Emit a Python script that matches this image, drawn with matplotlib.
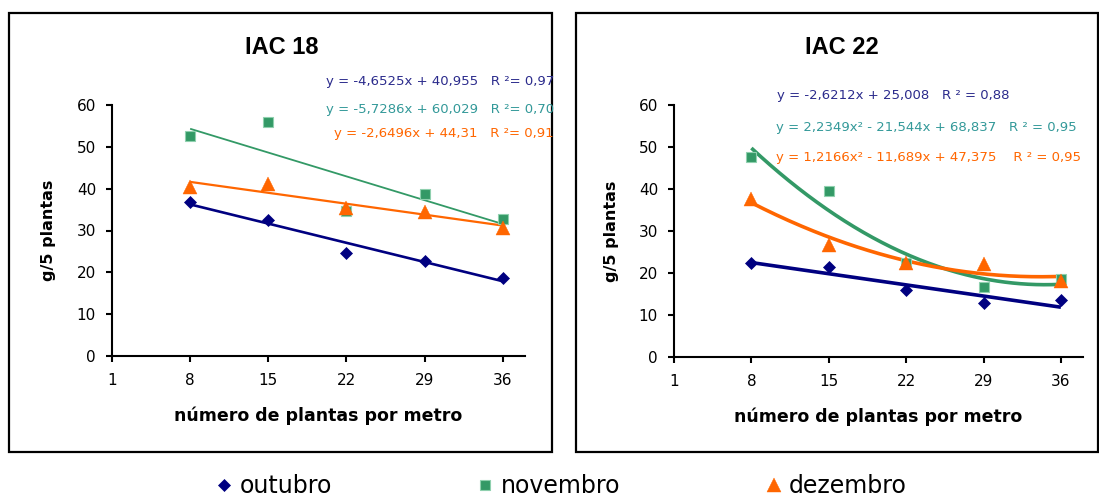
import numpy as np
import matplotlib
matplotlib.use("Agg")
import matplotlib.pyplot as plt
from matplotlib.patches import Rectangle

# ---------------- data ----------------
plants = [8, 15, 22, 29, 36]
x_ticks = [1, 8, 15, 22, 29, 36]
months = ["outubro", "novembro", "dezembro"]

iac18_outubro = [36.7, 32.5, 24.7, 22.8, 18.6]
iac18_novembro = [52.6, 56.0, 34.6, 38.7, 32.8]
iac18_dezembro = [40.3, 41.2, 35.4, 34.5, 30.6]

iac22_outubro = [22.4, 21.3, 15.8, 12.7, 13.4]
iac22_novembro = [47.7, 39.6, 22.4, 16.6, 18.6]
iac22_dezembro = [37.7, 26.7, 22.4, 22.2, 18.0]

eq_iac18 = ["y = -4,6525x + 40,955   R \u00b2= 0,97",
            "y = -5,7286x + 60,029   R \u00b2= 0,70",
            "y = -2,6496x + 44,31   R \u00b2= 0,91"]
eq_iac22 = ["y = -2,6212x + 25,008   R \u00b2 = 0,88",
            "y = 2,2349x\u00b2 - 21,544x + 68,837   R \u00b2 = 0,95",
            "y = 1,2166x\u00b2 - 11,689x + 47,375    R \u00b2 = 0,95"]

# ---------------- style ----------------
NAVY = "#000080"
GREEN = "#339966"
ORANGE = "#ff6600"
EQ_BLUE = "#2b2b8c"
EQ_TEAL = "#339999"

W, H = 1099, 496
fig = plt.figure(figsize=(W / 100, H / 100), dpi=100)
fig.patch.set_facecolor("white")


def fx(px):
    return px / W


def fy(py):
    return 1 - py / H


# panel frames
for (x0, y0, x1, y1) in [(9, 13, 552, 452), (576, 13, 1098, 452)]:
    fig.add_artist(Rectangle((fx(x0), fy(y1)), fx(x1 - x0), (y1 - y0) / H,
                             transform=fig.transFigure, fill=False,
                             edgecolor="black", linewidth=1.6, zorder=0))

ax1 = fig.add_axes([fx(112), fy(356), fx(525 - 112), (356 - 105) / H])
ax2 = fig.add_axes([fx(674), fy(356.7), fx(1083 - 674), (356.7 - 105) / H])

marker_kw = {
    "outubro": dict(marker="D", ms=5.8, color=NAVY, mec=NAVY, mew=0.5),
    "novembro": dict(marker="s", ms=7.0, color=GREEN, mec="#8fd0ae", mew=0.8),
    "dezembro": dict(marker="^", ms=10.0, color=ORANGE, mec=ORANGE, mew=0.3),
}
line_colors = {"outubro": NAVY, "novembro": GREEN, "dezembro": ORANGE}


def trend(ax, yvals, deg, color, lw):
    idx = np.arange(1, len(plants) + 1)
    coef = np.polyfit(idx, yvals, deg)
    ii = np.linspace(1, len(plants), 200)
    xx = np.interp(ii, idx, plants)
    ax.plot(xx, np.polyval(coef, ii), color=color, lw=lw, zorder=2,
            solid_capstyle="butt")


def style_axes(ax, title_px, title):
    ax.set_xlim(1, 38)
    ax.set_ylim(0, 60)
    ax.set_xticks(x_ticks)
    ax.set_yticks(range(0, 61, 10))
    for s in ["top", "right"]:
        ax.spines[s].set_visible(False)
    for s in ["left", "bottom"]:
        ax.spines[s].set_linewidth(1.5)
        ax.spines[s].set_color("black")
    ax.tick_params(axis="both", direction="out", length=4.5, width=1.5,
                   labelsize=11, colors="black")
    ax.tick_params(axis="x", pad=8)
    ax.tick_params(axis="y", pad=7)
    ax.set_facecolor("none")
    ax.set_xlabel("número de plantas por metro", fontsize=12.5,
                  fontweight="bold")
    ax.xaxis.label.set_va("center")
    ax.xaxis.set_label_coords(0.5, -(416 - 356) / 251)
    ax.set_ylabel("g/5 plantas", fontsize=11.5, fontweight="bold")
    ax.yaxis.label.set_va("center")
    ax.yaxis.set_label_coords(-(112 - 48.5) / 413, 0.5)
    fig.text(fx(title_px[0]), fy(title_px[1]), title, ha="center",
             va="center", fontsize=17, fontweight="bold",
             family=["Liberation Sans", "DejaVu Sans"])


# IAC 18
series18 = {"outubro": iac18_outubro, "novembro": iac18_novembro,
            "dezembro": iac18_dezembro}
lw18 = {"outubro": 1.9, "novembro": 1.3, "dezembro": 1.6}
handles = []
for m in months:
    trend(ax1, series18[m], 1, line_colors[m], lw18[m])
    h, = ax1.plot(plants, series18[m], ls="none", zorder=3, label=m,
                  **marker_kw[m])
    handles.append(h)
style_axes(ax1, (282, 47), "IAC 18")

# IAC 22
series22 = {"outubro": iac22_outubro, "novembro": iac22_novembro,
            "dezembro": iac22_dezembro}
deg22 = {"outubro": 1, "novembro": 2, "dezembro": 2}
for m in months:
    trend(ax2, series22[m], deg22[m], line_colors[m], 2.6)
    ax2.plot(plants, series22[m], ls="none", zorder=3, **marker_kw[m])
style_axes(ax2, (842, 47), "IAC 22")

# equations
eq_colors = [EQ_BLUE, EQ_TEAL, ORANGE]
for txt, col, (px, py) in zip(eq_iac18, eq_colors,
                              [(326, 82), (326, 110), (334, 134)]):
    fig.text(fx(px), fy(py), txt, color=col, fontsize=9.5, ha="left",
             va="center")
for txt, col, (px, py) in zip(eq_iac22, eq_colors,
                              [(777, 95), (776, 127), (776, 157)]):
    fig.text(fx(px), fy(py), txt, color=col, fontsize=9.5, ha="left",
             va="center")

# legend
fig.legend(handles=handles, labels=months, loc="center",
           bbox_to_anchor=(fx(562), fy(486)), ncol=3, frameon=False,
           fontsize=17, handlelength=0.6, handletextpad=0.35,
           columnspacing=6.2, borderpad=0, borderaxespad=0)

fig.savefig("out.png", dpi=100, facecolor="white")
